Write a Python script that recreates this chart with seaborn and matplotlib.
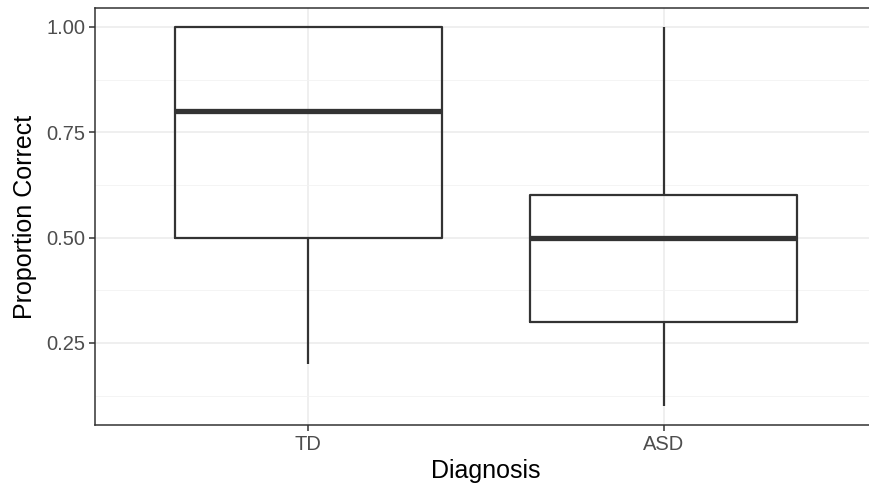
import pandas as pd
import seaborn as sns
import matplotlib.pyplot as plt
from matplotlib.ticker import MultipleLocator

# raw scores per group, chosen to give the boxes
groups = ["TD", "ASD"]
td_scores = [0.2, 0.5, 0.5, 0.8, 1.0, 1.0, 1.0]
asd_scores = [0.1, 0.3, 0.3, 0.5, 0.6, 0.6, 1.0]

data = pd.DataFrame({
    "Diagnosis": ["TD"] * len(td_scores) + ["ASD"] * len(asd_scores),
    "Proportion Correct": td_scores + asd_scores,
})

sns.set_style("white")
plt.rcParams["font.family"] = ["Liberation Sans", "DejaVu Sans"]

fig = plt.figure(figsize=(8.69, 4.93), dpi=100)
ax = fig.add_axes([95 / 869, (493 - 425) / 493, (877 - 95) / 869, (425 - 8) / 493])

dark = "#333333"
sns.boxplot(data=data, x="Diagnosis", y="Proportion Correct", order=groups,
            width=0.75, whis=1.5, fill=False, color=dark, linewidth=1.6,
            showcaps=False, medianprops=dict(linewidth=3.8, color=dark),
            flierprops=dict(marker="o", markersize=4, color=dark), ax=ax)

ax.set_xlim(-0.6, 1.6)
ax.set_ylim(0.055, 1.045)
ax.yaxis.set_major_locator(MultipleLocator(0.25))
ax.yaxis.set_minor_locator(MultipleLocator(0.125))
ax.set_yticks([0.25, 0.5, 0.75, 1.0])
ax.set_yticklabels(["0.25", "0.50", "0.75", "1.00"])

ax.grid(True, which="major", color="#EBEBEB", linewidth=1.1)
ax.grid(True, which="minor", axis="y", color="#F2F2F2", linewidth=0.6)
ax.set_axisbelow(True)

for s in ax.spines.values():
    s.set_visible(True)
    s.set_color(dark)
    s.set_linewidth(1.1)

ax.tick_params(axis="both", which="major", direction="out", length=4, width=1.1,
               color=dark, labelsize=14.5, labelcolor="#4D4D4D", pad=3,
               bottom=True, left=True)
ax.tick_params(axis="y", which="minor", length=0)

ax.set_xlabel("Diagnosis", fontsize=18, color="black", labelpad=4)
ax.set_ylabel("Proportion Correct", fontsize=18, color="black", labelpad=7)

fig.savefig("out.png", dpi=100)
